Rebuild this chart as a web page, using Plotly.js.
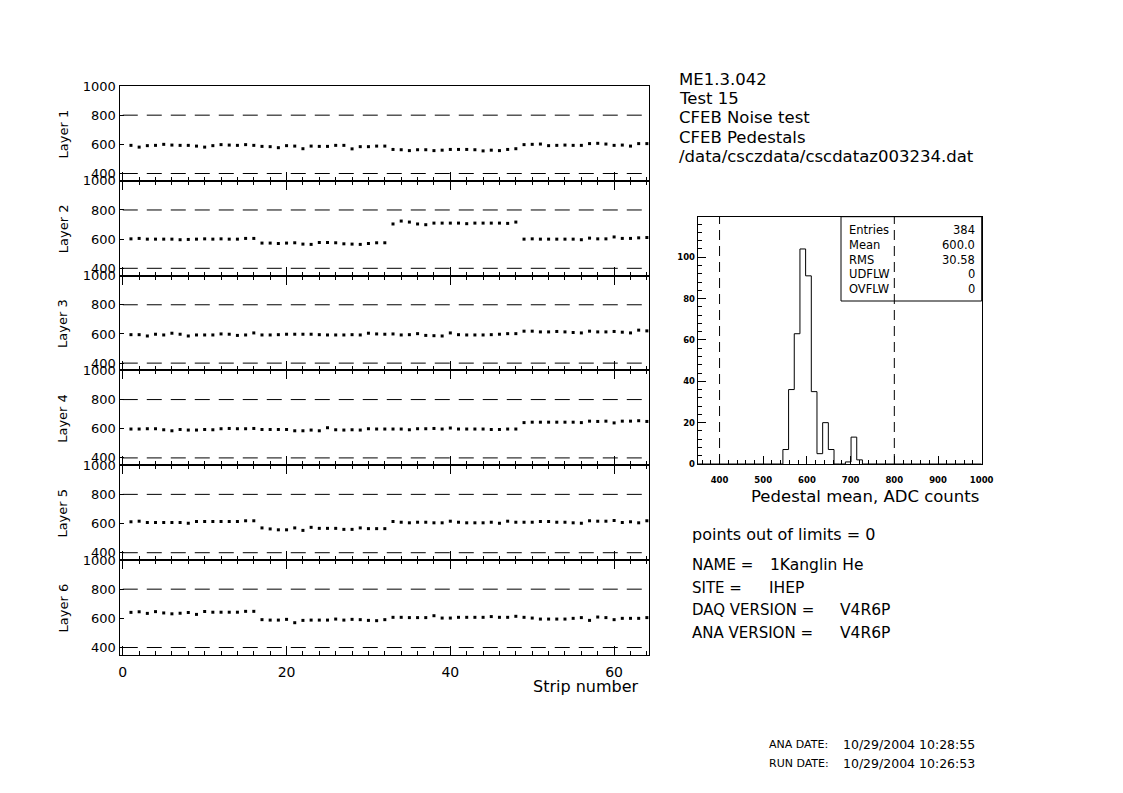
<!DOCTYPE html>
<html><head><meta charset="utf-8">
<script src="https://cdn.plot.ly/plotly-3.0.1.min.js"></script>
<style>html,body{margin:0;padding:0;background:#fff}#chart{width:1123px;height:793px}</style>
</head><body><div id="chart"></div>
<script>
// ---------- data ----------
const strips = [1,2,3,4,5,6,7,8,9,10,11,12,13,14,15,16,17,18,19,20,21,22,23,24,25,26,27,28,29,30,31,32,
  33,34,35,36,37,38,39,40,41,42,43,44,45,46,47,48,49,50,51,52,53,54,55,56,57,58,59,60,61,62,63,64];
const layerNames = ["Layer 1","Layer 2","Layer 3","Layer 4","Layer 5","Layer 6"];
const layer1 = [593,581,591,593,600,595,593,593,588,581,591,598,595,593,598,593,
  586,584,577,591,588,570,588,586,586,593,593,569,584,584,588,588,
  565,563,557,563,563,557,560,565,565,565,563,555,560,557,565,570,
  598,600,602,591,593,595,593,593,605,607,602,593,595,588,605,605];
const layer2 = [602,605,600,600,600,600,596,598,600,602,600,602,600,600,605,605,
  573,573,570,573,575,566,564,577,577,575,568,566,564,570,575,575,
  704,724,717,704,699,710,710,710,710,706,710,710,710,710,708,717,
  600,602,600,600,600,600,600,596,607,602,602,615,605,605,609,611];
const layer3 = [595,595,586,598,593,605,598,586,593,593,593,600,598,590,593,607,
  593,593,595,598,598,598,598,595,593,593,593,595,593,605,600,598,
  600,593,595,602,590,588,586,607,595,593,593,593,595,598,602,602,
  619,619,614,614,617,614,610,607,619,614,614,617,612,607,626,621];
const layer4 = [598,598,600,600,593,586,595,591,591,595,593,600,602,600,600,602,
  595,595,595,595,586,586,591,586,607,593,591,593,591,600,598,598,
  598,598,593,600,600,602,598,605,598,598,598,598,595,595,598,598,
  642,645,645,645,645,645,645,642,652,650,652,640,652,652,655,650];
const layer5 = [612,616,607,607,607,607,607,602,614,614,614,614,614,614,619,619,
  570,563,557,557,570,553,574,567,567,567,560,560,570,565,565,565,
  614,609,605,609,609,605,605,616,609,605,605,605,609,602,616,609,
  609,609,614,614,609,609,605,602,619,616,616,621,607,612,605,619];
const layer6 = [641,645,634,646,637,631,635,640,627,647,642,642,642,642,648,648,
  591,588,588,593,570,586,588,588,588,595,588,593,591,586,584,591,
  607,607,605,605,605,618,602,602,607,607,607,607,612,607,607,614,
  607,602,595,595,595,595,600,605,586,609,605,591,600,600,600,605];
const layers = [layer1, layer2, layer3, layer4, layer5, layer6];
const limits = [400, 800];

// histogram of pedestal means (bin lower edges, counts), range 350..1000
const histRange = [350, 1000];
const histEdges = [545,558,571,584,597,610,623,636,649,662,675,688,701,714,727];
const histCounts = [7,36,63,104,91,35,5,20,7,0,0,1,13,2,0];
const statLabels = ["Entries","Mean","RMS","UDFLW","OVFLW"];
const statValues = ["384","600.0","30.58","0","0"];

const headerLines = ["ME1.3.042","Test 15","CFEB Noise test","CFEB Pedestals","/data/csczdata/cscdataz003234.dat"];
const limitText = "points out of limits = 0";
const infoLabels = ["NAME =","SITE =","DAQ VERSION =","ANA VERSION ="];
const infoValues = ["1Kanglin He","IHEP","V4R6P","V4R6P"];
const dateLabels = ["ANA DATE:","RUN DATE:"];
const dateValues = ["10/29/2004 10:28:55","10/29/2004 10:26:53"];

// ---------- layout helpers ----------
const W = 1123, H = 793;
const FONT = "DejaVu Sans";
const px = x => x / W;
const py = y => 1 - y / H;
const panelLeft = 119.5, panelRight = 648.5, panelTop = 86, panelH = 94.8;

const traces = [];
const layout = {
  width: W, height: H, margin: {l:0, r:0, t:0, b:0},
  paper_bgcolor: "#fff", plot_bgcolor: "rgba(0,0,0,0)",
  showlegend: false, font: {family: FONT, color: "#000"},
  shapes: [], annotations: []
};

layers.forEach((vals, i) => {
  const n = i + 1, sx = n === 1 ? "" : String(n);
  const top = panelTop + i * panelH, bot = top + panelH;
  traces.push({
    type: "scatter", mode: "markers", x: strips, y: vals,
    xaxis: "x" + sx, yaxis: "y" + sx, cliponaxis: false,
    marker: {symbol: "square", size: 3, color: "#000"}, hoverinfo: "skip"
  });
  layout["xaxis" + sx] = {
    domain: [px(panelLeft), px(panelRight)], anchor: "y" + sx,
    range: [-0.4, 64.2], showgrid: false, zeroline: false,
    showline: true, linecolor: "#000", linewidth: 1,
    mirror: i === 0 ? true : "ticks",
    tickmode: "linear", tick0: 0, dtick: 20,
    ticks: "inside", ticklen: 9, tickwidth: 1, tickcolor: "#000",
    minor: {tick0: 0, dtick: 2, ticks: "inside", ticklen: 4, tickcolor: "#000", showgrid: false},
    showticklabels: i === 5, ticklabelstandoff: 4,
    tickfont: {family: FONT, size: 14, color: "#000"}
  };
  layout["yaxis" + sx] = {
    domain: [py(bot), py(top)], anchor: "x" + sx,
    range: [350, 1000], showgrid: false, zeroline: false,
    showline: true, linecolor: "#000", linewidth: 1, mirror: true,
    tickmode: "linear", tick0: 0, dtick: 200,
    ticks: "inside", ticklen: 4, tickcolor: "#000",
    tickfont: {family: FONT, size: 13, color: "#000"}
  };
  limits.forEach(lv => layout.shapes.push({
    type: "line", xref: "x" + sx, yref: "y" + sx,
    x0: 0, x1: 64, y0: lv, y1: lv,
    line: {color: "#000", width: 1, dash: "15px,9px"}
  }));
  layout.annotations.push({
    xref: "paper", yref: "paper", x: px(63), y: py((top + bot) / 2),
    text: layerNames[i], textangle: -90, showarrow: false,
    xanchor: "center", yanchor: "middle", font: {family: FONT, size: 13, color: "#000"}
  });
});

layout.annotations.push({
  xref: "paper", yref: "paper", x: px(641), y: py(686), text: "Strip number",
  showarrow: false, xanchor: "right", yanchor: "middle", font: {family: FONT, size: 16, color: "#000"}
});

// histogram as step outline
const hx = [histRange[0]].concat(histEdges, [histRange[1]]);
const hy = [0].concat(histCounts, [0]);
traces.push({
  type: "scatter", mode: "lines", x: hx, y: hy, xaxis: "x7", yaxis: "y7",
  line: {shape: "hv", color: "#000", width: 1}, hoverinfo: "skip"
});
const hL = 697.7, hR = 981.7, hT = 216.7, hB = 464;
layout.xaxis7 = {
  domain: [px(hL), px(hR)], anchor: "y7", range: histRange,
  showgrid: false, zeroline: false, showline: true, linecolor: "#000", linewidth: 1, mirror: true,
  tickmode: "linear", tick0: 0, dtick: 100, ticks: "inside", ticklen: 8, tickcolor: "#000",
  minor: {tick0: 0, dtick: 20, ticks: "inside", ticklen: 4, tickcolor: "#000", showgrid: false},
  ticklabelstandoff: 8,
  tickfont: {family: FONT, size: 8.5, color: "#000", weight: "bold"}
};
layout.yaxis7 = {
  domain: [py(hB), py(hT)], anchor: "x7", range: [0, 119.6],
  showgrid: false, zeroline: false, showline: true, linecolor: "#000", linewidth: 1, mirror: true,
  tickmode: "linear", tick0: 0, dtick: 20, ticks: "inside", ticklen: 8, tickcolor: "#000",
  minor: {tick0: 0, dtick: 4, ticks: "inside", ticklen: 4, tickcolor: "#000", showgrid: false},
  tickfont: {family: FONT, size: 8.5, color: "#000", weight: "bold"}
};
limits.forEach(lv => layout.shapes.push({
  type: "line", xref: "x7", yref: "y7 domain", x0: lv, x1: lv, y0: 0, y1: 1,
  line: {color: "#000", width: 1, dash: "10px,6px"}
}));
layout.annotations.push({
  xref: "paper", yref: "paper", x: px(981), y: py(496), text: "Pedestal mean, ADC counts",
  showarrow: false, xanchor: "right", yanchor: "middle", font: {family: FONT, size: 16.5, color: "#000"}
});
// stat box
layout.shapes.push({
  type: "rect", xref: "paper", yref: "paper", x0: px(841), x1: px(hR), y0: py(301), y1: py(hT),
  line: {color: "#000", width: 1}, fillcolor: "rgba(0,0,0,0)"
});
statLabels.forEach((t, k) => {
  const yy = 230 + k * 14.8;
  layout.annotations.push({xref: "paper", yref: "paper", x: px(847), y: py(yy), text: t, showarrow: false,
    xanchor: "left", yanchor: "middle", font: {family: FONT, size: 11.5, color: "#000"}});
  layout.annotations.push({xref: "paper", yref: "paper", x: px(977), y: py(yy), text: statValues[k], showarrow: false,
    xanchor: "right", yanchor: "middle", font: {family: FONT, size: 11.5, color: "#000"}});
});

// header text
headerLines.forEach((t, k) => layout.annotations.push({
  xref: "paper", yref: "paper", x: px(677), y: py(80 + k * 19), text: t, showarrow: false,
  xanchor: "left", yanchor: "middle", font: {family: FONT, size: 16.5, color: "#000"}
}));
layout.annotations.push({
  xref: "paper", yref: "paper", x: px(690), y: py(534), text: limitText, showarrow: false,
  xanchor: "left", yanchor: "middle", font: {family: FONT, size: 16, color: "#000"}
});
const infoValX = [768, 767, 838, 838];
infoLabels.forEach((t, k) => {
  const yy = 565 + k * 22.5;
  layout.annotations.push({xref: "paper", yref: "paper", x: px(690), y: py(yy), text: t, showarrow: false,
    xanchor: "left", yanchor: "middle", font: {family: FONT, size: 15, color: "#000"}});
  layout.annotations.push({xref: "paper", yref: "paper", x: px(infoValX[k]), y: py(yy), text: infoValues[k], showarrow: false,
    xanchor: "left", yanchor: "middle", font: {family: FONT, size: 15.5, color: "#000"}});
});
dateLabels.forEach((t, k) => {
  const yy = 744 + k * 19;
  layout.annotations.push({xref: "paper", yref: "paper", x: px(767), y: py(yy), text: t, showarrow: false,
    xanchor: "left", yanchor: "middle", font: {family: FONT, size: 11, color: "#000"}});
  layout.annotations.push({xref: "paper", yref: "paper", x: px(841), y: py(yy), text: dateValues[k], showarrow: false,
    xanchor: "left", yanchor: "middle", font: {family: FONT, size: 12.5, color: "#000"}});
});

Plotly.newPlot("chart", traces, layout, {staticPlot: true, displayModeBar: false});
</script>
</body></html>
